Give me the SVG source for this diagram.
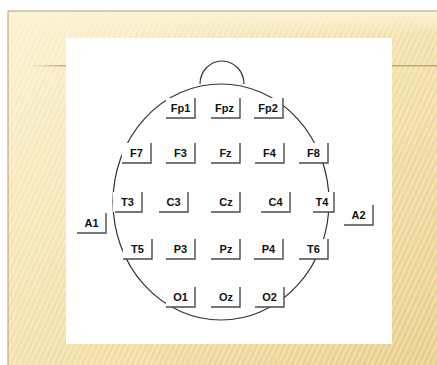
<svg xmlns="http://www.w3.org/2000/svg" width="437" height="365" viewBox="0 0 437 365">
<defs>
<linearGradient id="bg" x1="0" y1="0" x2="1" y2="1">
<stop offset="0" stop-color="#fcf1cd"/>
<stop offset="0.45" stop-color="#f4e2ae"/>
<stop offset="1" stop-color="#e8cd88"/>
</linearGradient>
<linearGradient id="topband" x1="0" y1="0" x2="0" y2="1">
<stop offset="0" stop-color="#fdf3d4" stop-opacity="1"/>
<stop offset="1" stop-color="#fdf3d4" stop-opacity="0"/>
</linearGradient>
<linearGradient id="hl" x1="0" y1="0" x2="1" y2="0">
<stop offset="0" stop-color="#c4ab6a" stop-opacity="0"/>
<stop offset="1" stop-color="#c4ab6a" stop-opacity="1"/>
</linearGradient>
<pattern id="stripes" width="5" height="5" patternUnits="userSpaceOnUse" patternTransform="rotate(25)">
<rect x="0" y="0" width="2" height="5" fill="#ffffff" fill-opacity="0.3"/>
</pattern>
</defs>
<style>
.box{fill:#ffffff}
.edge{fill:none;stroke:#4a4a4a;stroke-width:1.4}
.lbl{font-family:"Liberation Sans",Arial,sans-serif;font-weight:bold;font-size:11px;fill:#111;text-anchor:middle}
.head{fill:none;stroke:#333;stroke-width:1.2}
</style>
<rect x="0" y="0" width="437" height="365" fill="#ffffff"/>
<rect x="8" y="11" width="429" height="354" fill="url(#bg)"/>
<rect x="8" y="11" width="429" height="354" fill="url(#stripes)"/>
<rect x="8" y="11" width="429" height="24" fill="url(#topband)"/>
<path d="M8 365 V11 H437" fill="none" stroke="#b59e78" stroke-width="1"/>
<rect x="30" y="65" width="36" height="1.5" fill="url(#hl)"/>
<rect x="392" y="65" width="45" height="1.5" fill="#c4ab6a"/>
<rect x="66" y="38" width="326" height="306" fill="#ffffff"/>
<g id="head">
<path class="head" d="M200 84 A22 23 0 0 1 244 84"/>
<ellipse class="head" cx="221" cy="202" rx="108" ry="118"/>
</g>
<g id="connectors"></g>
<g id="Fp1" transform="translate(166,98)"><rect class="box" width="29" height="20"/><path class="edge" d="M0 20H29V0"/><text class="lbl" x="14.5" y="14">Fp1</text></g>
<g id="Fpz" transform="translate(211,98)"><rect class="box" width="29" height="20"/><path class="edge" d="M0 20H29V0"/><text class="lbl" x="13.5" y="14">Fpz</text></g>
<g id="Fp2" transform="translate(254,98)"><rect class="box" width="29" height="20"/><path class="edge" d="M0 20H29V0"/><text class="lbl" x="14" y="14">Fp2</text></g>
<g id="F7" transform="translate(122,143)"><rect class="box" width="29" height="20"/><path class="edge" d="M0 20H29V0"/><text class="lbl" x="14.5" y="14">F7</text></g>
<g id="F3" transform="translate(166,143)"><rect class="box" width="29" height="20"/><path class="edge" d="M0 20H29V0"/><text class="lbl" x="14.5" y="14">F3</text></g>
<g id="Fz" transform="translate(211,143)"><rect class="box" width="29" height="20"/><path class="edge" d="M0 20H29V0"/><text class="lbl" x="14.5" y="14">Fz</text></g>
<g id="F4" transform="translate(255,143)"><rect class="box" width="29" height="20"/><path class="edge" d="M0 20H29V0"/><text class="lbl" x="14.5" y="14">F4</text></g>
<g id="F8" transform="translate(299,143)"><rect class="box" width="29" height="20"/><path class="edge" d="M0 20H29V0"/><text class="lbl" x="14.5" y="14">F8</text></g>
<g id="T3" transform="translate(113,192)"><rect class="box" width="29" height="20"/><path class="edge" d="M2 20H29V0"/><text class="lbl" x="14.5" y="14">T3</text></g>
<g id="C3" transform="translate(159,192)"><rect class="box" width="29" height="20"/><path class="edge" d="M0 20H29V0"/><text class="lbl" x="14.5" y="14">C3</text></g>
<g id="Cz" transform="translate(211,192)"><rect class="box" width="29" height="20"/><path class="edge" d="M0 20H29V0"/><text class="lbl" x="15" y="14">Cz</text></g>
<g id="C4" transform="translate(261,192)"><rect class="box" width="29" height="20"/><path class="edge" d="M0 20H29V0"/><text class="lbl" x="14.5" y="14">C4</text></g>
<g id="T4" transform="translate(305,192)"><rect class="box" width="29" height="20"/><path class="edge" d="M8 20H29V0"/><text class="lbl" x="17" y="14">T4</text></g>
<g id="A1" transform="translate(77,213)"><rect class="box" width="29" height="20"/><path class="edge" d="M0 20H29V0"/><text class="lbl" x="14.5" y="14">A1</text></g>
<g id="A2" transform="translate(344,205)"><rect class="box" width="29" height="20"/><path class="edge" d="M0 20H29V0"/><text class="lbl" x="14.5" y="14">A2</text></g>
<g id="T5" transform="translate(123,239)"><rect class="box" width="29" height="20"/><path class="edge" d="M0 20H29V0"/><text class="lbl" x="14.5" y="14">T5</text></g>
<g id="P3" transform="translate(166,239)"><rect class="box" width="29" height="20"/><path class="edge" d="M0 20H29V0"/><text class="lbl" x="14.5" y="14">P3</text></g>
<g id="Pz" transform="translate(211,239)"><rect class="box" width="29" height="20"/><path class="edge" d="M0 20H29V0"/><text class="lbl" x="15" y="14">Pz</text></g>
<g id="P4" transform="translate(254,239)"><rect class="box" width="29" height="20"/><path class="edge" d="M0 20H29V0"/><text class="lbl" x="14.5" y="14">P4</text></g>
<g id="T6" transform="translate(299,239)"><rect class="box" width="29" height="20"/><path class="edge" d="M0 20H29V0"/><text class="lbl" x="14.5" y="14">T6</text></g>
<g id="O1" transform="translate(166,287)"><rect class="box" width="29" height="20"/><path class="edge" d="M0 20H29V0"/><text class="lbl" x="14.5" y="14">O1</text></g>
<g id="Oz" transform="translate(211,287)"><rect class="box" width="29" height="20"/><path class="edge" d="M0 20H29V0"/><text class="lbl" x="15" y="14">Oz</text></g>
<g id="O2" transform="translate(255,287)"><rect class="box" width="29" height="20"/><path class="edge" d="M0 20H29V0"/><text class="lbl" x="14.5" y="14">O2</text></g>
</svg>
